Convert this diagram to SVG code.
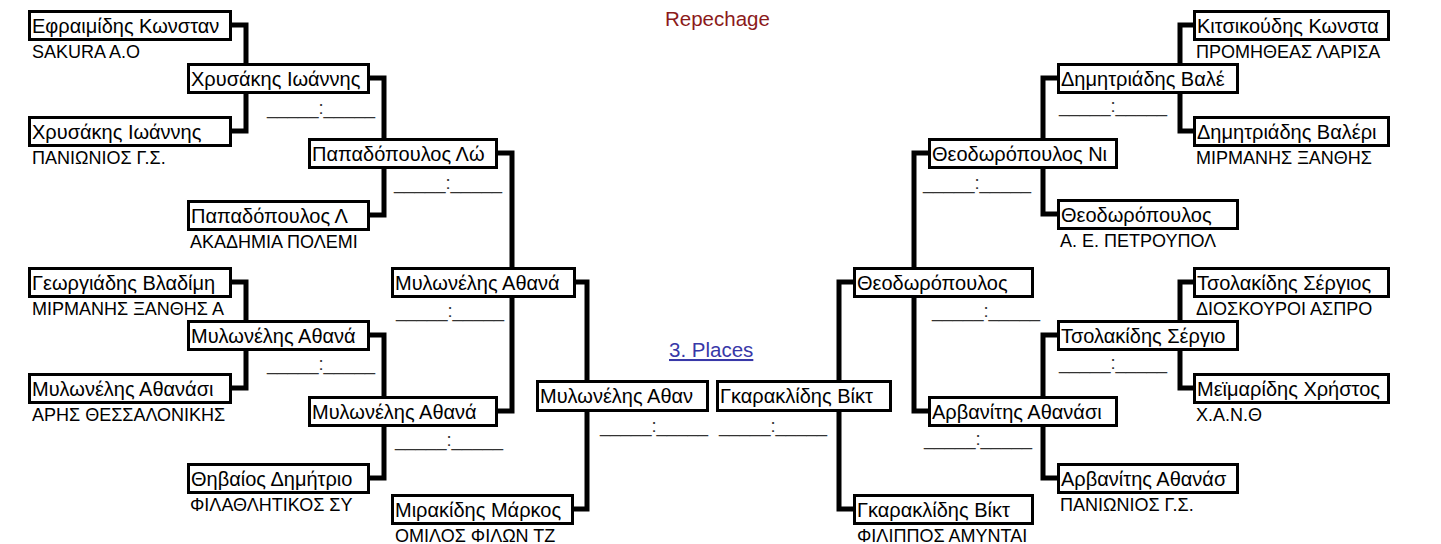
<svg xmlns="http://www.w3.org/2000/svg" width="1441" height="544" viewBox="0 0 1441 544">
<style>
.box{fill:#fff;stroke:#000;stroke-width:3}
.name{font-family:"Liberation Sans",Arial,sans-serif;font-size:20px;fill:#000}
.team{font-family:"Liberation Sans",Arial,sans-serif;font-size:18px;fill:#000}
.score{font-family:"Liberation Sans",Arial,sans-serif;font-size:18.5px;fill:#333}
.conn{fill:none;stroke:#000;stroke-width:5;stroke-linejoin:miter}
.title{font-family:"Liberation Sans",Arial,sans-serif;font-size:20.5px}
</style>
<rect width="1441" height="544" fill="#fff"/>
<text class="title" x="665" y="26" fill="#8b1a1a">Repechage</text>
<text class="title" x="669" y="357" fill="#3838a8" text-decoration="underline">3. Places</text>
<g id="connectors">
<path class="conn" d="M230,25 H246 V131 H230"/>
<path class="conn" d="M368,78 H384 V215 H368"/>
<path class="conn" d="M230,282 H246 V388 H230"/>
<path class="conn" d="M368,335 H384 V478 H368"/>
<path class="conn" d="M496,153 H512 V411 H496"/>
<path class="conn" d="M574,282 H587 V509 H572"/>
<path class="conn" d="M1195,25 H1180 V131 H1195"/>
<path class="conn" d="M1059,78 H1043 V214 H1059"/>
<path class="conn" d="M1195,282 H1180 V388 H1195"/>
<path class="conn" d="M1059,335 H1043 V478 H1059"/>
<path class="conn" d="M930,153 H914 V411 H930"/>
<path class="conn" d="M855,282 H839 V509 H855"/>
</g>
<g id="scores">
<text class="score" x="267" y="114">_____:_____</text>
<text class="score" x="394" y="189">_____:_____</text>
<text class="score" x="267" y="370">_____:_____</text>
<text class="score" x="395" y="446">_____:_____</text>
<text class="score" x="396" y="317">_____:_____</text>
<text class="score" x="600" y="432">_____:_____</text>
<text class="score" x="719" y="432">_____:_____</text>
<text class="score" x="932" y="317">_____:_____</text>
<text class="score" x="923" y="189">_____:_____</text>
<text class="score" x="1059" y="112">_____:_____</text>
<text class="score" x="924" y="445">_____:_____</text>
<text class="score" x="1059" y="369">_____:_____</text>
</g>
<g id="n-a1" transform="translate(28,10)"><rect class="box" x="1.5" y="1.5" width="201" height="28"/><text class="name" x="4" y="23">Εφραιμίδης Κωνσταν</text><text class="team" x="4" y="48">SAKURA A.O</text></g>
<g id="n-a2" transform="translate(28,116)"><rect class="box" x="1.5" y="1.5" width="201" height="28"/><text class="name" x="4" y="23">Χρυσάκης Ιωάννης</text><text class="team" x="4" y="48">ΠΑΝΙΩΝΙΟΣ Γ.Σ.</text></g>
<g id="n-a3" transform="translate(28,267)"><rect class="box" x="1.5" y="1.5" width="201" height="28"/><text class="name" x="4" y="23">Γεωργιάδης Βλαδίμη</text><text class="team" x="4" y="48">ΜΙΡΜΑΝΗΣ ΞΑΝΘΗΣ Α</text></g>
<g id="n-a4" transform="translate(28,373)"><rect class="box" x="1.5" y="1.5" width="201" height="28"/><text class="name" x="4" y="23">Μυλωνέλης Αθανάσι</text><text class="team" x="4" y="48">ΑΡΗΣ ΘΕΣΣΑΛΟΝΙΚΗΣ</text></g>
<g id="n-b1" transform="translate(187,63)"><rect class="box" x="1.5" y="1.5" width="180" height="28"/><text class="name" x="4" y="23">Χρυσάκης Ιωάννης</text></g>
<g id="n-b2" transform="translate(187,200)"><rect class="box" x="1.5" y="1.5" width="180" height="28"/><text class="name" x="4" y="23">Παπαδόπουλος Λ</text><text class="team" x="3" y="48">ΑΚΑΔΗΜΙΑ ΠΟΛΕΜΙ</text></g>
<g id="n-b3" transform="translate(187,320)"><rect class="box" x="1.5" y="1.5" width="180" height="28"/><text class="name" x="4" y="23">Μυλωνέλης Αθανά</text></g>
<g id="n-b4" transform="translate(187,463)"><rect class="box" x="1.5" y="1.5" width="180" height="28"/><text class="name" x="4" y="23">Θηβαίος Δημήτριο</text><text class="team" x="3" y="48">ΦΙΛΑΘΛΗΤΙΚΟΣ ΣΥ</text></g>
<g id="n-c1" transform="translate(308,138)"><rect class="box" x="1.5" y="1.5" width="187" height="28"/><text class="name" x="4" y="23">Παπαδόπουλος Λώ</text></g>
<g id="n-c2" transform="translate(308,396)"><rect class="box" x="1.5" y="1.5" width="187" height="28"/><text class="name" x="4" y="23">Μυλωνέλης Αθανά</text></g>
<g id="n-d1" transform="translate(391,267)"><rect class="box" x="1.5" y="1.5" width="182" height="28"/><text class="name" x="4" y="23">Μυλωνέλης Αθανά</text></g>
<g id="n-d2" transform="translate(391,494)"><rect class="box" x="1.5" y="1.5" width="180" height="28"/><text class="name" x="4" y="23">Μιρακίδης Μάρκος</text><text class="team" x="4" y="48">ΟΜΙΛΟΣ ΦΙΛΩΝ ΤΖ</text></g>
<g id="n-cl" transform="translate(536,380)"><rect class="box" x="1.5" y="1.5" width="170" height="29"/><text class="name" x="4" y="23">Μυλωνέλης Αθαν</text></g>
<g id="n-cr" transform="translate(716,380)"><rect class="box" x="1.5" y="1.5" width="173" height="29"/><text class="name" x="4" y="23">Γκαρακλίδης Βίκτ</text></g>
<g id="n-d3" transform="translate(853,267)"><rect class="box" x="1.5" y="1.5" width="178" height="28"/><text class="name" x="4" y="23">Θεοδωρόπουλος</text></g>
<g id="n-d4" transform="translate(853,494)"><rect class="box" x="1.5" y="1.5" width="178" height="28"/><text class="name" x="4" y="23">Γκαρακλίδης Βίκτ</text><text class="team" x="4" y="48">ΦΙΛΙΠΠΟΣ ΑΜΥΝΤΑΙ</text></g>
<g id="n-c3" transform="translate(928,138)"><rect class="box" x="1.5" y="1.5" width="187" height="28"/><text class="name" x="4" y="23">Θεοδωρόπουλος Νι</text></g>
<g id="n-c4" transform="translate(928,396)"><rect class="box" x="1.5" y="1.5" width="187" height="28"/><text class="name" x="4" y="23">Αρβανίτης Αθανάσι</text></g>
<g id="n-b5" transform="translate(1057,63)"><rect class="box" x="1.5" y="1.5" width="179" height="28"/><text class="name" x="4" y="23">Δημητριάδης Βαλέ</text></g>
<g id="n-b6" transform="translate(1057,199)"><rect class="box" x="1.5" y="1.5" width="179" height="28"/><text class="name" x="4" y="23">Θεοδωρόπουλος</text><text class="team" x="3" y="48">Α. Ε.  ΠΕΤΡΟΥΠΟΛ</text></g>
<g id="n-b7" transform="translate(1057,320)"><rect class="box" x="1.5" y="1.5" width="179" height="28"/><text class="name" x="4" y="23">Τσολακίδης Σέργιο</text></g>
<g id="n-b8" transform="translate(1057,463)"><rect class="box" x="1.5" y="1.5" width="179" height="28"/><text class="name" x="4" y="23">Αρβανίτης Αθανάσ</text><text class="team" x="3" y="48">ΠΑΝΙΩΝΙΟΣ Γ.Σ.</text></g>
<g id="n-a5" transform="translate(1193,10)"><rect class="box" x="1.5" y="1.5" width="194" height="28"/><text class="name" x="4" y="23">Κιτσικούδης Κωνστα</text><text class="team" x="3" y="48">ΠΡΟΜΗΘΕΑΣ ΛΑΡΙΣΑ</text></g>
<g id="n-a6" transform="translate(1193,116)"><rect class="box" x="1.5" y="1.5" width="194" height="28"/><text class="name" x="4" y="23">Δημητριάδης Βαλέρι</text><text class="team" x="3" y="48">ΜΙΡΜΑΝΗΣ ΞΑΝΘΗΣ</text></g>
<g id="n-a7" transform="translate(1193,267)"><rect class="box" x="1.5" y="1.5" width="194" height="28"/><text class="name" x="4" y="23">Τσολακίδης Σέργιος</text><text class="team" x="3" y="48">ΔΙΟΣΚΟΥΡΟΙ ΑΣΠΡΟ</text></g>
<g id="n-a8" transform="translate(1193,373)"><rect class="box" x="1.5" y="1.5" width="194" height="28"/><text class="name" x="4" y="23">Μεϊμαρίδης Χρήστος</text><text class="team" x="3" y="48">Χ.Α.Ν.Θ</text></g>
</svg>
